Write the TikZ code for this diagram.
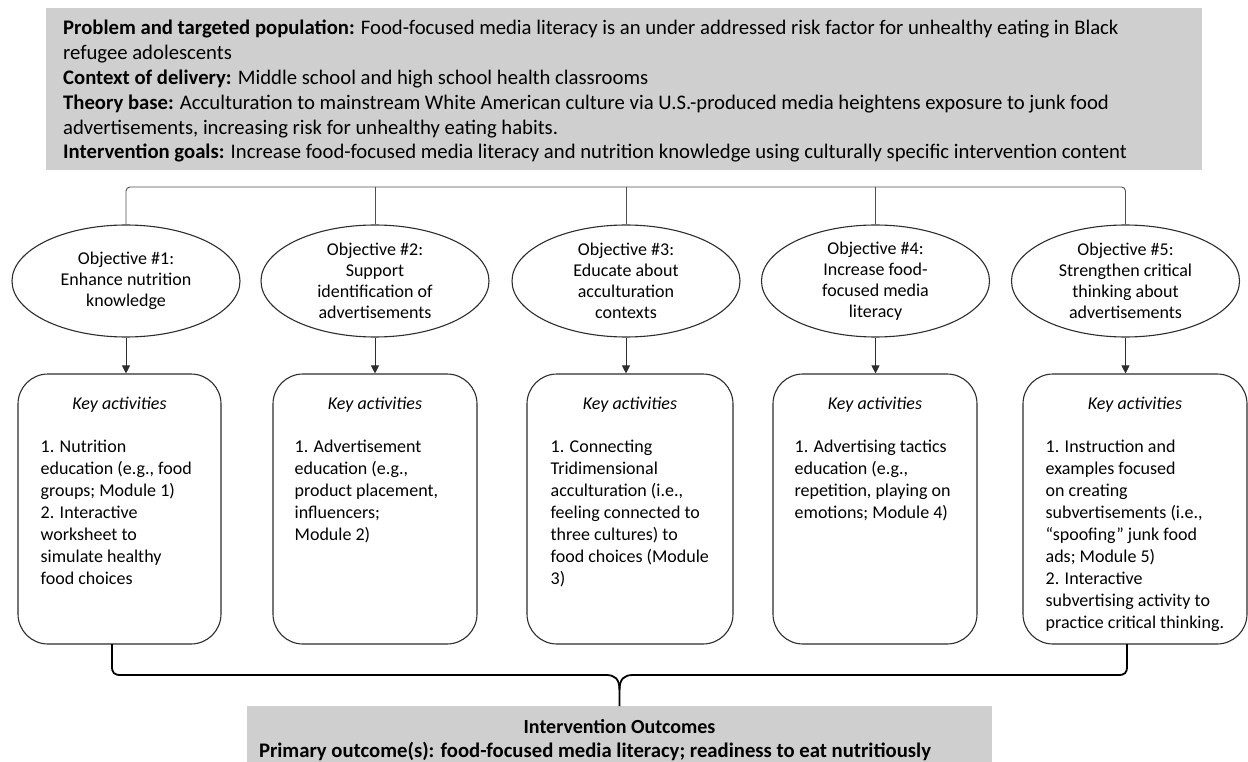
\documentclass[tikz,border=0pt]{standalone}
\usepackage{fontspec}
\setmainfont{Carlito}
\usetikzlibrary{shapes.geometric,arrows.meta,calc}
\definecolor{boxgray}{RGB}{207,207,207}
\definecolor{linec}{RGB}{45,45,45}
\definecolor{connc}{RGB}{80,80,80}
\begin{document}
\begin{tikzpicture}[x=1pt,y=-1pt,
  gbox/.style={fill=boxgray, draw=none, inner sep=0pt, rectangle},
  obj/.style={ellipse, draw=linec, line width=1.1pt, minimum width=228pt, minimum height=112pt, inner sep=0pt},
  objtxt/.style={align=center, inner sep=0pt, font=\fontsize{18}{21}\selectfont},
  kbox/.style={rectangle, draw=linec, line width=1.1pt, rounded corners=30pt, minimum height=270pt, inner sep=0pt},
  keyt/.style={font=\fontsize{18}{22}\selectfont\itshape, inner sep=0pt, anchor=base},
  listt/.style={font=\fontsize{18}{22}\selectfont, align=left, inner sep=0pt, anchor=north west},
  conn/.style={draw=connc, line width=0.9pt},
  arr/.style={draw=linec, line width=0.9pt, -{Triangle[length=8pt,width=8pt]}},
  bracel/.style={draw=black, line width=1.8pt}
]
\useasboundingbox (0,0) rectangle (1248,762);

% top box
\node[gbox, minimum width=1156pt, minimum height=162pt, anchor=north west] (top) at (46,8) {};
\node[anchor=north west, inner sep=0pt, align=left, font=\fontsize{20.7}{24.8}\selectfont] (toptxt) at (63,17.4)
{\strut\textbf{Problem and targeted population:} Food-focused media literacy is an under addressed risk factor for unhealthy eating in Black\\
refugee adolescents\\
\textbf{Context of delivery:} Middle school and high school health classrooms\\
\textbf{Theory base:} Acculturation to mainstream White American culture via U.S.-produced media heightens exposure to junk food\\
advertisements, increasing risk for unhealthy eating habits.\\
\textbf{Intervention goals:} Increase food-focused media literacy and nutrition knowledge using culturally specific intervention content};

% ellipses
\node[obj] (e1) at (126,281) {};
\node[obj] (e2) at (375,281) {};
\node[obj] (e3) at (626,281) {};
\node[obj] (e4) at (875.5,281) {};
\node[obj] (e5) at (1125.5,281) {};
\node[objtxt] (o1) at (e1) {Objective \#1:\\Enhance nutrition\\knowledge};
\node[objtxt] (o2) at (e2) {Objective \#2:\\Support\\identification of\\advertisements};
\node[objtxt] (o3) at (e3) {Objective \#3:\\Educate about\\acculturation\\contexts};
\node[objtxt] (o4) at (e4) {Objective \#4:\\Increase food-\\focused media\\literacy};
\node[objtxt] (o5) at (e5) {Objective \#5:\\Strengthen critical\\thinking about\\advertisements};

% top connector bar
\coordinate (bar) at (626,187);
\draw[conn, rounded corners=4pt] (e1.north) |- (bar) -| (e5.north);
\foreach \i in {2,3,4} { \draw[conn] (e\i.north) -- (e\i.north |- bar); }

% activity boxes
\node[kbox, minimum width=203pt] (b1) at (119.5,509) {};
\node[kbox, minimum width=204pt] (b2) at (375,509) {};
\node[kbox, minimum width=206pt] (b3) at (630,509) {};
\node[kbox, minimum width=204pt] (b4) at (875,509) {};
\node[kbox, minimum width=224pt] (b5) at (1135,509) {};

\foreach \i in {1,...,5} {
  \draw[arr] (e\i.south) -- (e\i.south |- b\i.north);
  \node[keyt] (k\i) at ([yshift=-36pt]b\i.north) {Key activities};
}

\node[listt] (l1) at ([xshift=23pt,yshift=-63pt]b1.north west)
{\strut 1. Nutrition\\education (e.g., food\\groups; Module 1)\\2. Interactive\\worksheet to\\simulate healthy\\food choices};
\node[listt] (l2) at ([xshift=22pt,yshift=-63pt]b2.north west)
{\strut 1. Advertisement\\education (e.g.,\\product placement,\\influencers;\\Module 2)};
\node[listt] (l3) at ([xshift=24pt,yshift=-63pt]b3.north west)
{\strut 1. Connecting\\Tridimensional\\acculturation (i.e.,\\feeling connected to\\three cultures) to\\food choices (Module\\3)};
\node[listt] (l4) at ([xshift=22pt,yshift=-63pt]b4.north west)
{\strut 1. Advertising tactics\\education (e.g.,\\repetition, playing on\\emotions; Module 4)};
\node[listt] (l5) at ([xshift=23pt,yshift=-63pt]b5.north west)
{\strut 1. Instruction and\\examples focused\\on creating\\subvertisements (i.e.,\\“spoofing” junk food\\ads; Module 5)\\2. Interactive\\subvertising activity to\\practice critical thinking.};

% outcomes box
\node[gbox, minimum width=745pt, minimum height=70pt, anchor=north] (out) at (619.5,706) {};
\node[anchor=base, inner sep=0pt, font=\fontsize{20}{24}\selectfont\bfseries] (ot1) at ([yshift=-27pt]out.north) {Intervention Outcomes};
\node[anchor=base west, inner sep=0pt, font=\fontsize{20.7}{24}\selectfont\bfseries] (ot2) at ([xshift=12pt,yshift=-51pt]out.north west) {Primary outcome(s): food-focused media literacy; readiness to eat nutritiously};

% brace
\coordinate (bl) at (112,644);
\coordinate (br) at (1127,644);
\draw[bracel] (bl) -- (112,666) .. controls (112,673) and (114,675) .. (121,675) -- (606,675) .. controls (615,675) and (619.5,679) .. (619.5,690) -- (out.north);
\draw[bracel] (br) -- (1127,666) .. controls (1127,673) and (1125,675) .. (1118,675) -- (633,675) .. controls (624,675) and (619.5,679) .. (619.5,690);
\end{tikzpicture}
\end{document}
